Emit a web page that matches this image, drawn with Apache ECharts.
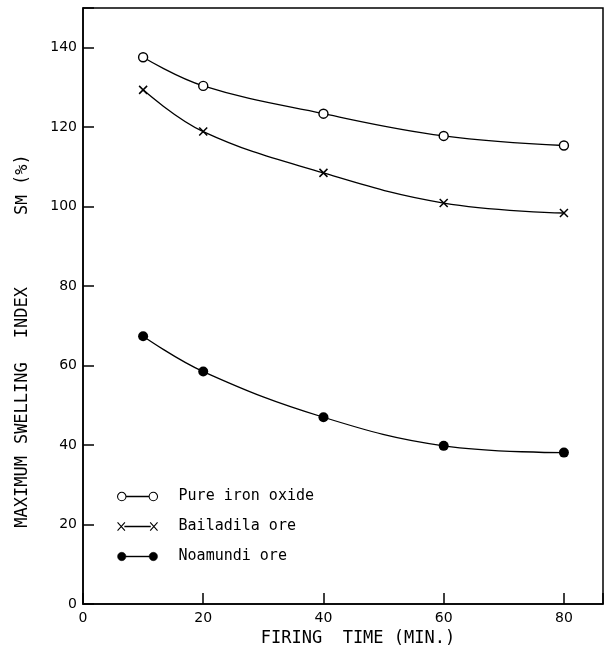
<!DOCTYPE html>
<html>
<head>
<meta charset="utf-8">
<script src="https://cdn.jsdelivr.net/npm/echarts@6/dist/echarts.min.js"></script>
<style>html,body{margin:0;padding:0;background:#fff}#c{width:607px;height:655px}</style>
</head>
<body>
<div id="c"></div>
<script>
var firingTime = [10, 20, 40, 60, 80];
var pureIronOxide = [137.6, 130.4, 123.4, 117.8, 115.4];
var bailadilaOre = [129.4, 118.9, 108.5, 100.9, 98.4];
var noamundiOre = [67.4, 58.5, 47.0, 39.8, 38.1];
var xTicks = [0, 20, 40, 60, 80];
var yTicks = [0, 20, 40, 60, 80, 100, 120, 140];
var seriesNames = ['Pure iron oxide', 'Bailadila ore', 'Noamundi ore'];

function pairs(xs, ys) { return xs.map(function (x, i) { return [x, ys[i]]; }); }
function tickFormatter(list) {
  return function (v) { return list.indexOf(v) >= 0 ? String(v) : ''; };
}

var crossPath = 'path://M0,0 L10,10 M10,0 L0,10';
var iconHollow = 'path://M1,5 A4,4 0 1,0 9,5 A4,4 0 1,0 1,5 Z M31,5 A4,4 0 1,0 39,5 A4,4 0 1,0 31,5 Z M9,4.75 L31,4.75 L31,5.25 L9,5.25 Z';
var iconCross = 'path://M1,1 L8,9 M8,1 L1,9 M32,1 L39,9 M39,1 L32,9 M8,4.75 L32,4.75 L32,5.25 L8,5.25 Z';
var iconFilled = 'path://M1,5 A4,4 0 1,0 9,5 A4,4 0 1,0 1,5 Z M31,5 A4,4 0 1,0 39,5 A4,4 0 1,0 31,5 Z M9,4.6 L31,4.6 L31,5.4 L9,5.4 Z';

var chart = echarts.init(document.getElementById('c'));
var font = 'DejaVu Sans';
var mono = 'DejaVu Sans Mono';
chart.setOption({
  animation: false,
  backgroundColor: '#fff',
  textStyle: { fontFamily: font, color: '#000' },
  grid: { left: 83, right: 4, top: 8, bottom: 51, show: true, borderColor: '#000', borderWidth: 1.5,
    containLabel: false, outerBoundsMode: 'none' },
  legend: {
    orient: 'vertical',
    left: 112,
    top: 484,
    itemWidth: 40,
    itemHeight: 10,
    itemGap: 15,
    textStyle: { fontFamily: mono, fontSize: 15, color: '#000', padding: [0, 0, 0, 16] },
    data: [
      { name: seriesNames[0], icon: iconHollow, itemStyle: { color: '#fff', borderColor: '#000', borderWidth: 1.1 } },
      { name: seriesNames[1], icon: iconCross, itemStyle: { color: '#000', borderColor: '#000', borderWidth: 1.1 } },
      { name: seriesNames[2], icon: iconFilled, itemStyle: { color: '#000', borderColor: '#000', borderWidth: 0.5 } }
    ]
  },
  xAxis: {
    type: 'value',
    min: 0,
    max: 86.5,
    interval: 20,
    name: 'FIRING  TIME (MIN.)',
    nameLocation: 'middle',
    nameGap: 25,
    nameTextStyle: { fontFamily: mono, fontSize: 17, color: '#000', padding: [0, 0, 0, 30] },
    axisLine: { show: true, lineStyle: { color: '#000', width: 1.5 } },
    axisTick: { show: true, inside: true, length: 11, lineStyle: { color: '#000', width: 1.5 } },
    axisLabel: { fontFamily: font, fontSize: 14, color: '#000', margin: 7, formatter: tickFormatter(xTicks) },
    splitLine: { show: false }
  },
  yAxis: {
    type: 'value',
    min: 0,
    max: 150,
    interval: 20,
    name: '{a|MAXIMUM}{g1|}{a|SWELLING}{g2|}{a|INDEX}{g3|}{a|S}{s|M}{a| (%)}',
    nameLocation: 'middle',
    nameGap: 52,
    nameRotate: 90,
    nameTextStyle: {
      padding: [0, 70, 0, 0],
      rich: {
        a: { fontFamily: mono, fontSize: 17, color: '#000' },
        g1: { width: 12 },
        g2: { width: 24 },
        g3: { width: 72 },
        s: { fontFamily: mono, fontSize: 16, color: '#000' }
      }
    },
    axisLine: { show: true, lineStyle: { color: '#000', width: 1.5 } },
    axisTick: { show: true, inside: true, length: 11, lineStyle: { color: '#000', width: 1.5 } },
    axisLabel: { fontFamily: font, fontSize: 14, color: '#000', margin: 6, formatter: tickFormatter(yTicks) },
    splitLine: { show: false }
  },
  series: [
    {
      name: seriesNames[0], type: 'line', smooth: 0.4,
      data: pairs(firingTime, pureIronOxide),
      symbol: 'circle', symbolSize: 9,
      itemStyle: { color: '#fff', borderColor: '#000', borderWidth: 1.4 },
      lineStyle: { color: '#000', width: 1.3 }
    },
    {
      name: seriesNames[1], type: 'line', smooth: 0.4,
      data: pairs(firingTime, bailadilaOre),
      symbol: crossPath, symbolSize: 8,
      itemStyle: { color: '#000', borderColor: '#000', borderWidth: 1.5 },
      lineStyle: { color: '#000', width: 1.3 }
    },
    {
      name: seriesNames[2], type: 'line', smooth: 0.4,
      data: pairs(firingTime, noamundiOre),
      symbol: 'circle', symbolSize: 10,
      itemStyle: { color: '#000', borderColor: '#000', borderWidth: 0 },
      lineStyle: { color: '#000', width: 1.3 }
    }
  ]
});
</script>
</body>
</html>
